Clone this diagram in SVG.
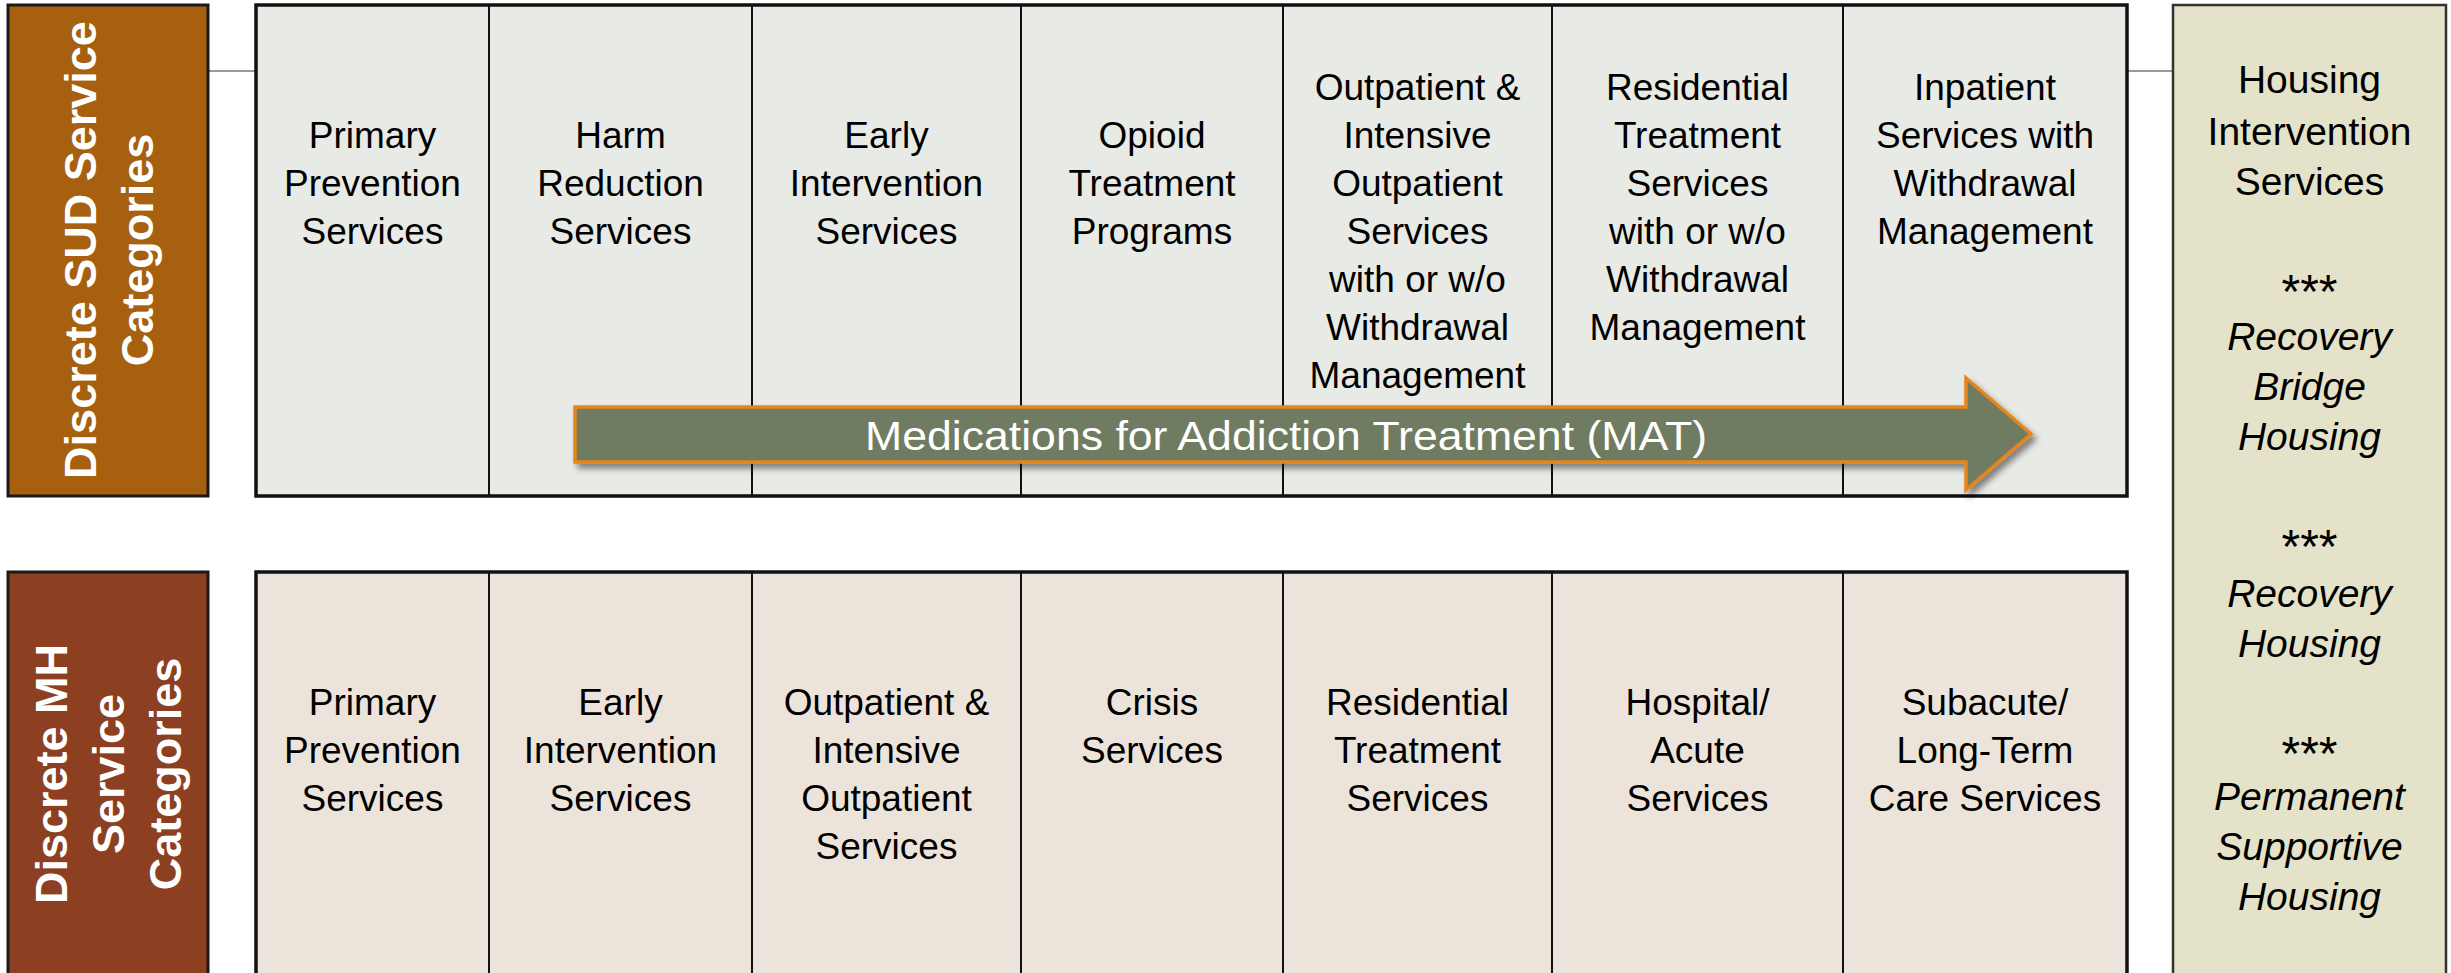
<svg xmlns="http://www.w3.org/2000/svg" width="2451" height="973" viewBox="0 0 2451 973">
<defs>
<style>
.lbl{font-family:"Liberation Sans",Arial,sans-serif;font-weight:bold;font-size:45px;fill:#ffffff;text-anchor:middle}
.cell{font-family:"Liberation Sans",Arial,sans-serif;font-size:37px;fill:#000000;text-anchor:middle}
.hous{font-family:"Liberation Sans",Arial,sans-serif;font-size:39px;fill:#000000;text-anchor:middle}
.ast{font-family:"Liberation Sans",Arial,sans-serif;font-size:48px;fill:#000000;text-anchor:middle}
.it{font-style:italic}
.sud{fill:#e8eae5;stroke:#111;stroke-width:2}
.mh{fill:#ece4da;stroke:#111;stroke-width:2}
.outline{fill:none;stroke:#111;stroke-width:3.5}
.conn{stroke:#9a9a9a;stroke-width:2;fill:none}
</style>
<filter id="shadow" x="-5%" y="-30%" width="110%" height="160%">
<feDropShadow dx="4" dy="5" stdDeviation="3" flood-color="#000" flood-opacity="0.45"/>
</filter>
</defs>
<rect x="0" y="0" width="2451" height="973" fill="#ffffff"/>

<g id="connectors">
<line class="conn" x1="208" y1="71" x2="256" y2="71"/>
<line class="conn" x1="2127" y1="71" x2="2173" y2="71"/>
</g>

<g id="sud-label">
<rect x="8" y="5" width="200" height="491" fill="#a6600f" stroke="#1a1a1a" stroke-width="3"/>
<text class="lbl" transform="translate(96,250) rotate(-90)">Discrete SUD Service</text>
<text class="lbl" transform="translate(153,250) rotate(-90)">Categories</text>
</g>

<g id="mh-label">
<rect x="8" y="572" width="200" height="420" fill="#8c3f21" stroke="#1a1a1a" stroke-width="3"/>
<text class="lbl" transform="translate(67,774) rotate(-90)">Discrete MH</text>
<text class="lbl" transform="translate(124,774) rotate(-90)">Service</text>
<text class="lbl" transform="translate(181,774) rotate(-90)">Categories</text>
</g>

<g id="sud-primary-prevention">
<rect class="sud" x="256" y="5" width="233" height="491"/>
<text class="cell"><tspan x="372.5" y="148">Primary</tspan><tspan x="372.5" y="196">Prevention</tspan><tspan x="372.5" y="244">Services</tspan></text>
</g>
<g id="sud-harm-reduction">
<rect class="sud" x="489" y="5" width="263" height="491"/>
<text class="cell"><tspan x="620.5" y="148">Harm</tspan><tspan x="620.5" y="196">Reduction</tspan><tspan x="620.5" y="244">Services</tspan></text>
</g>
<g id="sud-early-intervention">
<rect class="sud" x="752" y="5" width="269" height="491"/>
<text class="cell"><tspan x="886.5" y="148">Early</tspan><tspan x="886.5" y="196">Intervention</tspan><tspan x="886.5" y="244">Services</tspan></text>
</g>
<g id="sud-opioid-treatment">
<rect class="sud" x="1021" y="5" width="262" height="491"/>
<text class="cell"><tspan x="1152" y="148">Opioid</tspan><tspan x="1152" y="196">Treatment</tspan><tspan x="1152" y="244">Programs</tspan></text>
</g>
<g id="sud-outpatient">
<rect class="sud" x="1283" y="5" width="269" height="491"/>
<text class="cell"><tspan x="1417.5" y="100">Outpatient &amp;</tspan><tspan x="1417.5" y="148">Intensive</tspan><tspan x="1417.5" y="196">Outpatient</tspan><tspan x="1417.5" y="244">Services</tspan><tspan x="1417.5" y="292">with or w/o</tspan><tspan x="1417.5" y="340">Withdrawal</tspan><tspan x="1417.5" y="388">Management</tspan></text>
</g>
<g id="sud-residential">
<rect class="sud" x="1552" y="5" width="291" height="491"/>
<text class="cell"><tspan x="1697.5" y="100">Residential</tspan><tspan x="1697.5" y="148">Treatment</tspan><tspan x="1697.5" y="196">Services</tspan><tspan x="1697.5" y="244">with or w/o</tspan><tspan x="1697.5" y="292">Withdrawal</tspan><tspan x="1697.5" y="340">Management</tspan></text>
</g>
<g id="sud-inpatient">
<rect class="sud" x="1843" y="5" width="284" height="491"/>
<text class="cell"><tspan x="1985" y="100">Inpatient</tspan><tspan x="1985" y="148">Services with</tspan><tspan x="1985" y="196">Withdrawal</tspan><tspan x="1985" y="244">Management</tspan></text>
</g>
<rect class="outline" x="256" y="5" width="1871" height="491"/>

<g id="mh-primary-prevention">
<rect class="mh" x="256" y="572" width="233" height="420"/>
<text class="cell"><tspan x="372.5" y="715">Primary</tspan><tspan x="372.5" y="763">Prevention</tspan><tspan x="372.5" y="811">Services</tspan></text>
</g>
<g id="mh-early-intervention">
<rect class="mh" x="489" y="572" width="263" height="420"/>
<text class="cell"><tspan x="620.5" y="715">Early</tspan><tspan x="620.5" y="763">Intervention</tspan><tspan x="620.5" y="811">Services</tspan></text>
</g>
<g id="mh-outpatient">
<rect class="mh" x="752" y="572" width="269" height="420"/>
<text class="cell"><tspan x="886.5" y="715">Outpatient &amp;</tspan><tspan x="886.5" y="763">Intensive</tspan><tspan x="886.5" y="811">Outpatient</tspan><tspan x="886.5" y="859">Services</tspan></text>
</g>
<g id="mh-crisis">
<rect class="mh" x="1021" y="572" width="262" height="420"/>
<text class="cell"><tspan x="1152" y="715">Crisis</tspan><tspan x="1152" y="763">Services</tspan></text>
</g>
<g id="mh-residential">
<rect class="mh" x="1283" y="572" width="269" height="420"/>
<text class="cell"><tspan x="1417.5" y="715">Residential</tspan><tspan x="1417.5" y="763">Treatment</tspan><tspan x="1417.5" y="811">Services</tspan></text>
</g>
<g id="mh-hospital">
<rect class="mh" x="1552" y="572" width="291" height="420"/>
<text class="cell"><tspan x="1697.5" y="715">Hospital/</tspan><tspan x="1697.5" y="763">Acute</tspan><tspan x="1697.5" y="811">Services</tspan></text>
</g>
<g id="mh-subacute">
<rect class="mh" x="1843" y="572" width="284" height="420"/>
<text class="cell"><tspan x="1985" y="715">Subacute/</tspan><tspan x="1985" y="763">Long-Term</tspan><tspan x="1985" y="811">Care Services</tspan></text>
</g>
<rect class="outline" x="256" y="572" width="1871" height="420"/>

<g id="housing">
<rect x="2173" y="5" width="273" height="990" fill="#e4e2c8" stroke="#333" stroke-width="2.5"/>
<text class="hous"><tspan x="2309.5" y="93">Housing</tspan><tspan x="2309.5" y="145">Intervention</tspan><tspan x="2309.5" y="195">Services</tspan></text>
<text class="ast" x="2309.5" y="308">***</text>
<text class="hous it"><tspan x="2309.5" y="350">Recovery</tspan><tspan x="2309.5" y="400">Bridge</tspan><tspan x="2309.5" y="450">Housing</tspan></text>
<text class="ast" x="2309.5" y="563">***</text>
<text class="hous it"><tspan x="2309.5" y="607">Recovery</tspan><tspan x="2309.5" y="657">Housing</tspan></text>
<text class="ast" x="2309.5" y="770">***</text>
<text class="hous it"><tspan x="2309.5" y="810">Permanent</tspan><tspan x="2309.5" y="860">Supportive</tspan><tspan x="2309.5" y="910">Housing</tspan></text>
</g>

<g id="mat-arrow">
<path d="M575,407 L1966,407 L1966,378 L2031,434 L1966,490 L1966,462 L575,462 Z" fill="#6f7b62" stroke="#e5851b" stroke-width="3.5" stroke-linejoin="miter" filter="url(#shadow)"/>
<text x="1286" y="450" font-family="'Liberation Sans',Arial,sans-serif" font-size="41" fill="#ffffff" text-anchor="middle" textLength="842" lengthAdjust="spacingAndGlyphs">Medications for Addiction Treatment (MAT)</text>
</g>
</svg>
